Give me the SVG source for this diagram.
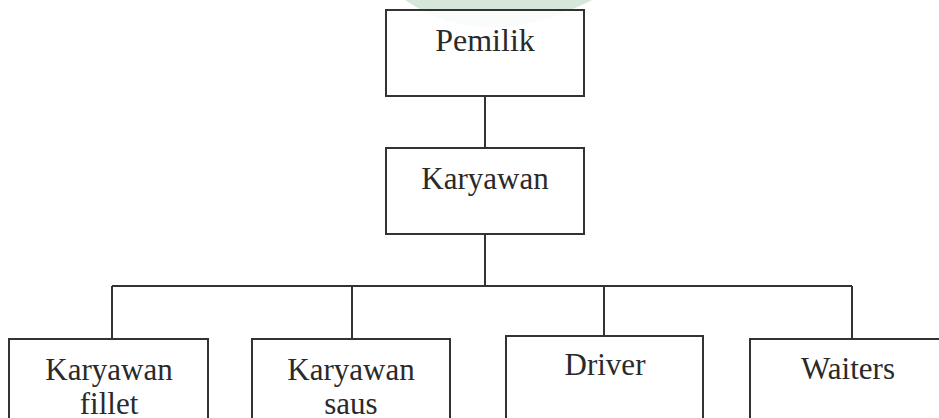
<svg xmlns="http://www.w3.org/2000/svg" width="939" height="418" viewBox="0 0 939 418">
<style>
.box{fill:#fff;stroke:#333;stroke-width:2}
.ln{fill:none;stroke:#333;stroke-width:2}
text{font-family:'Liberation Serif','Times New Roman',serif;font-size:31px;fill:#2a2a2a;text-anchor:middle}
</style>
<rect width="939" height="418" fill="#fff"/>
<path d="M405 0 Q485 55 592 0 Z" fill="#d6e6da"/>
<g id="connectors">
<line class="ln" x1="485" y1="96" x2="485" y2="148"/>
<line class="ln" x1="485" y1="234" x2="485" y2="286"/>
<line class="ln" x1="112" y1="286" x2="852" y2="286"/>
<line class="ln" x1="112" y1="286" x2="112" y2="339"/>
<line class="ln" x1="352" y1="286" x2="352" y2="339"/>
<line class="ln" x1="604" y1="286" x2="604" y2="336"/>
<line class="ln" x1="852" y1="286" x2="852" y2="339"/>
</g>
<g id="pemilik">
<rect class="box" x="386" y="10" width="198" height="86" fill-opacity="0.85"/>
<text x="485" y="51" style="font-size:32px">Pemilik</text>
</g>
<g id="karyawan">
<rect class="box" x="386" y="148" width="198" height="86"/>
<text x="485" y="189">Karyawan</text>
</g>
<g id="karyawan-fillet">
<rect class="box" x="9" y="339" width="199" height="100"/>
<text x="109" y="380">Karyawan</text>
<text x="109" y="414">fillet</text>
</g>
<g id="karyawan-saus">
<rect class="box" x="252" y="339" width="198" height="100"/>
<text x="351" y="380">Karyawan</text>
<text x="351" y="414">saus</text>
</g>
<g id="driver">
<rect class="box" x="506" y="336" width="197" height="100"/>
<text x="605" y="375">Driver</text>
</g>
<g id="waiters">
<rect class="box" x="750" y="339" width="198" height="100"/>
<text x="848" y="379">Waiters</text>
</g>
</svg>
